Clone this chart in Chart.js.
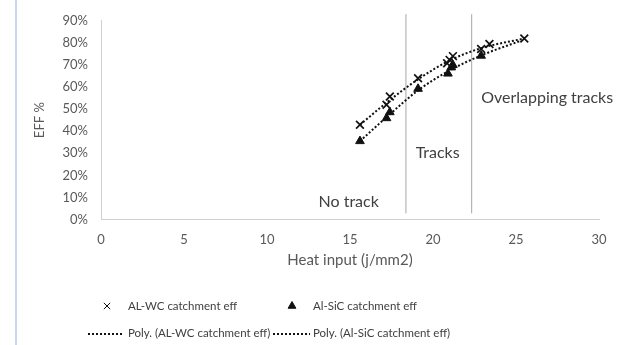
<!DOCTYPE html>
<html>
<head>
<meta charset="utf-8">
<script src="https://cdn.jsdelivr.net/npm/chart.js@4/dist/chart.umd.min.js"></script>
<style>
html,body{margin:0;padding:0;background:#fff;}
#wrap{width:622px;height:345px;position:relative;}
</style>
</head>
<body>
<div id="wrap"><canvas id="c" width="622" height="345"></canvas></div>
<script>
// ---- data ----
const wcHeat = [15.6, 17.2, 17.4, 19.1, 20.85, 21.0, 21.2, 22.9, 23.4, 25.5];
const wcEff  = [42.9, 52.0, 55.7, 64.0, 70.8, 72.3, 74.0, 77.2, 79.5, 82.0];
const sicHeat = [15.6, 17.2, 17.4, 19.1, 20.9, 21.1, 21.2, 22.9];
const sicEff  = [35.5, 45.9, 48.6, 59.2, 66.1, 68.9, 70.0, 74.2];
// trendlines
const wcTrendHeat = [15.6, 17.3, 19.1, 21.0, 22.9, 25.5];
const wcTrendEff  = [42.9, 53.5, 63.5, 72.0, 77.6, 82.0];
const sicTrendHeat = [15.6, 17.3, 19.1, 21.0, 22.9, 25.3];
const sicTrendEff  = [35.5, 47.0, 58.5, 67.5, 74.3, 81.0];
// region boundaries
const boundaryHeat = [18.37, 22.33];
const boundaryEffSpan = [2.8, 93];
const regionLabels = ['No track', 'Tracks', 'Overlapping tracks'];
const regionLabelHeat = [14.92, 20.28, 22.9];
const regionLabelEff = [8.0, 30.1, 55.1];
const xTicks = [0, 5, 10, 15, 20, 25, 30];
const yTicks = [0, 10, 20, 30, 40, 50, 60, 70, 80, 90];
const legendLabels = ['AL-WC catchment eff', 'Al-SiC catchment eff', 'Poly. (AL-WC catchment eff)', 'Poly. (Al-SiC catchment eff)'];

const FONT = 'Lato, "Open Sans", sans-serif';
const toPts = (xs, ys) => xs.map((x, i) => ({x: x, y: ys[i]}));

const datasets = [
  {label: legendLabels[2], type: 'line', data: toPts(wcTrendHeat, wcTrendEff), borderColor: '#111', borderWidth: 2, borderDash: [2, 2], pointRadius: 0, tension: 0.4, cubicInterpolationMode: 'monotone', fill: false},
  {label: legendLabels[3], type: 'line', data: toPts(sicTrendHeat, sicTrendEff), borderColor: '#111', borderWidth: 2, borderDash: [2, 2], pointRadius: 0, tension: 0.4, cubicInterpolationMode: 'monotone', fill: false},
  {label: legendLabels[0], type: 'scatter', data: toPts(wcHeat, wcEff), pointStyle: 'crossRot', pointRadius: 5.5, borderColor: '#111', backgroundColor: '#111', pointBorderWidth: 1.7, showLine: false},
  {label: legendLabels[1], type: 'scatter', data: toPts(sicHeat, sicEff), pointStyle: 'triangle', pointRadius: 5, borderColor: '#111', backgroundColor: '#111', pointBorderWidth: 1, showLine: false}
];
boundaryHeat.forEach((b, i) => {
  datasets.push({label: 'boundary' + i, type: 'line', data: [{x: b, y: boundaryEffSpan[0]}, {x: b, y: boundaryEffSpan[1]}], borderColor: '#a6a6a6', borderWidth: 1, pointRadius: 0, clip: false, fill: false});
});

const decor = {
  id: 'decor',
  beforeDraw(chart) {
    const ctx = chart.ctx;
    ctx.save();
    ctx.fillStyle = '#fff';
    ctx.fillRect(0, 0, chart.width, chart.height);
    ctx.strokeStyle = '#c6d7ee';
    ctx.lineWidth = 2;
    ctx.beginPath(); ctx.moveTo(16, 0); ctx.lineTo(16, chart.height); ctx.stroke();
    ctx.restore();
  },
  afterDatasetsDraw(chart) {
    const ctx = chart.ctx, xs = chart.scales.x, ys = chart.scales.y;
    ctx.save();
    ctx.fillStyle = '#404040';
    ctx.font = '16px ' + FONT;
    ctx.textBaseline = 'middle';
    regionLabels.forEach((t, i) => {
      ctx.textAlign = i === 2 ? 'left' : 'center';
      ctx.fillText(t, xs.getPixelForValue(regionLabelHeat[i]), ys.getPixelForValue(regionLabelEff[i]));
    });
    // legend
    const items = [
      {text: legendLabels[0], kind: 'crossRot', mx: 107, tx: 128, y: 306},
      {text: legendLabels[1], kind: 'triangle', mx: 292, tx: 313, y: 306},
      {text: legendLabels[2], kind: 'line', lx0: 88, lx1: 123, tx: 128, y: 333},
      {text: legendLabels[3], kind: 'line', lx0: 273, lx1: 310, tx: 313, y: 333}
    ];
    ctx.font = '11.5px ' + FONT;
    ctx.textAlign = 'left';
    items.forEach(it => {
      if (it.kind === 'line') {
        ctx.save();
        ctx.strokeStyle = '#111'; ctx.lineWidth = 2; ctx.setLineDash([2, 2]);
        ctx.beginPath(); ctx.moveTo(it.lx0, it.y + 1); ctx.lineTo(it.lx1, it.y + 1); ctx.stroke();
        ctx.restore();
      } else {
        ctx.save();
        ctx.strokeStyle = '#111'; ctx.fillStyle = '#111';
        Chart.helpers.drawPoint(ctx, {pointStyle: it.kind, radius: 4.5, borderWidth: 1.6, rotation: 0}, it.mx, it.y);
        ctx.restore();
      }
      ctx.fillStyle = '#404040';
      ctx.fillText(it.text, it.tx, it.y);
    });
    ctx.restore();
  }
};

new Chart(document.getElementById('c'), {
  type: 'scatter',
  data: {datasets: datasets},
  plugins: [decor],
  options: {
    responsive: false,
    animation: false,
    layout: {padding: {left: 28, right: 23, top: 20, bottom: 72}},
    plugins: {legend: {display: false}, tooltip: {enabled: false}},
    scales: {
      x: {
        type: 'linear', min: 0, max: 30,
        afterBuildTicks: s => { s.ticks = xTicks.map(v => ({value: v})); },
        afterFit: s => { s.height = 53.5; },
        grid: {display: false, drawTicks: false},
        border: {display: true, color: '#d0d0d0', width: 1},
        ticks: {color: '#595959', font: {family: FONT, size: 13}, padding: 13, maxRotation: 0},
        title: {display: true, text: 'Heat input (j/mm2)', color: '#595959', font: {family: FONT, size: 15}, padding: {top: 3, bottom: 4}}
      },
      y: {
        type: 'linear', min: 0, max: 90,
        afterBuildTicks: s => { s.ticks = yTicks.map(v => ({value: v})); },
        afterFit: s => { s.width = 73; },
        grid: {display: false, drawTicks: false},
        border: {display: true, color: '#d0d0d0', width: 1},
        ticks: {color: '#595959', font: {family: FONT, size: 13}, padding: 13, callback: v => v + '%'},
        title: {display: true, text: 'EFF %', color: '#595959', font: {family: FONT, size: 13}, padding: {top: 4, bottom: 4}}
      }
    }
  }
});
</script>
</body>
</html>
